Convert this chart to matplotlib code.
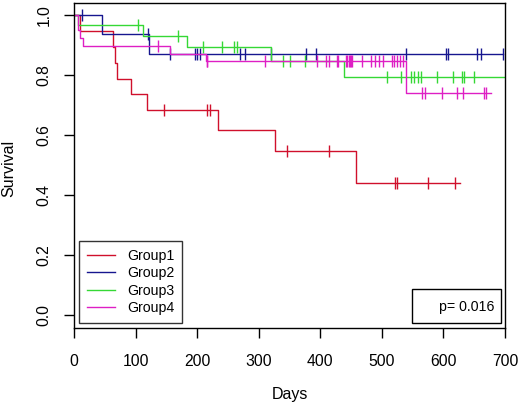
import numpy as np
import matplotlib
matplotlib.use("Agg")
import matplotlib.pyplot as plt
from matplotlib.patches import Rectangle

plt.rcParams['font.family'] = ['Liberation Sans', 'DejaVu Sans']

# ---------------- data ----------------
group_names = ["Group1", "Group2", "Group3", "Group4"]
group_colors = ["#D0102C", "#16168F", "#35D835", "#DE1FC4"]

g1_times = [0, 9, 63, 66.5, 70, 92, 119, 234.5, 326.5, 458]
g1_surv = [1.0, 0.947, 0.895, 0.842, 0.789, 0.737, 0.684, 0.616, 0.547, 0.441]
g1_end = 627
g1_censor = [146.7, 215.5, 221, 346.5, 414.7, 521, 524, 575.5, 619]

g2_times = [0, 46, 122]
g2_surv = [1.0, 0.936, 0.872]
g2_end = 697
g2_censor = [12.5, 120, 156, 196, 199, 205, 269.6, 277.7, 319.5, 376, 392.6,
             540, 604, 608, 654, 660.5, 697]

g3_times = [0, 7, 112.6, 183, 319.5, 438.5]
g3_surv = [1.0, 0.967, 0.931, 0.894, 0.847, 0.794]
g3_end = 700
g3_censor = [104.5, 169.5, 210, 241, 260.5, 264, 339, 350, 375.7, 509, 531,
             547, 552, 558, 563.6, 590, 616, 630, 633, 650]

g4_times = [0, 6, 10, 14, 156, 214, 540]
g4_surv = [1.0, 0.95, 0.923, 0.898, 0.872, 0.847, 0.742]
g4_end = 678
g4_censor = [136, 215.5, 216.5, 310, 394, 409, 414.7, 426.6, 429, 442, 443.5,
             446, 447.5, 450, 451.5, 467, 482, 489, 496, 502, 517, 520, 525,
             529.5, 535, 565, 570, 597, 621.6, 632, 666.5, 668.5]

p_text = "p= 0.016"
x_ticks = [0, 100, 200, 300, 400, 500, 600, 700]
y_ticks = [0.0, 0.2, 0.4, 0.6, 0.8, 1.0]
x_label = "Days"
y_label = "Survival"

groups = [
    (g1_times, g1_surv, g1_end, g1_censor),
    (g2_times, g2_surv, g2_end, g2_censor),
    (g3_times, g3_surv, g3_end, g3_censor),
    (g4_times, g4_surv, g4_end, g4_censor),
]

# ---------------- figure ----------------
W, H = 518, 407
fig = plt.figure(figsize=(W / 100, H / 100), dpi=100)
ax_l, ax_r, ax_t, ax_b = 74, 505, 3.3, 328
ax = fig.add_axes([ax_l / W, 1 - ax_b / H, (ax_r - ax_l) / W, (ax_b - ax_t) / H])

for (t, s, end, cens), name, col in zip(groups, group_names, group_colors):
    tt = np.append(np.asarray(t, float), end)
    ss = np.append(np.asarray(s, float), s[-1])
    ax.step(tt, ss, where="post", color=col, lw=1.0, label=name)
    cens = np.asarray(cens, float)
    idx = np.searchsorted(np.asarray(t, float), cens, side="right") - 1
    ax.plot(cens, np.asarray(s, float)[idx], ls="none", marker="|",
            markersize=8.5, mew=1.0, color=col)

ax.set_xlim(0, 700)
ax.set_ylim(-0.0434, 1.04)
ax.set_xticks(x_ticks)
ax.set_yticks(y_ticks)
ax.set_xticklabels([str(v) for v in x_ticks])
ax.set_yticklabels([f"{v:.1f}" for v in y_ticks])
for lab in ax.get_yticklabels():
    lab.set_rotation(90)
    lab.set_rotation_mode("anchor")
    lab.set_ha("center")
    lab.set_va("bottom")
ax.tick_params(axis="both", direction="out", length=7, width=1.0,
               labelsize=11.3, color="black")
ax.tick_params(axis="x", pad=12)
ax.tick_params(axis="y", pad=9)
for sp in ax.spines.values():
    sp.set_linewidth(1.0)
    sp.set_color("black")

fig.text(290 / W, 1 - 395 / H, x_label, ha="center", va="center", fontsize=11.5)
fig.text(9 / W, 1 - 168 / H, y_label, ha="center", va="center",
         rotation=90, fontsize=11.5)

leg = ax.legend(loc="lower left", bbox_to_anchor=(5 / 431, 5 / 324.7),
                borderaxespad=0, frameon=True, fancybox=False,
                edgecolor="black", fontsize=10.2, handlelength=2.0,
                handletextpad=0.85, labelspacing=0.25, borderpad=0.55)
leg.get_frame().set_linewidth(1.0)

# p-value box
ax.add_patch(Rectangle((0.784, 0.0154), 0.991 - 0.784, 0.120 - 0.0154,
                       transform=ax.transAxes, fill=False, ec="black", lw=1.0))
ax.text(0.9745, 0.066, p_text, transform=ax.transAxes, ha="right",
        va="center", fontsize=10.2)

fig.savefig("out.png", dpi=100)
